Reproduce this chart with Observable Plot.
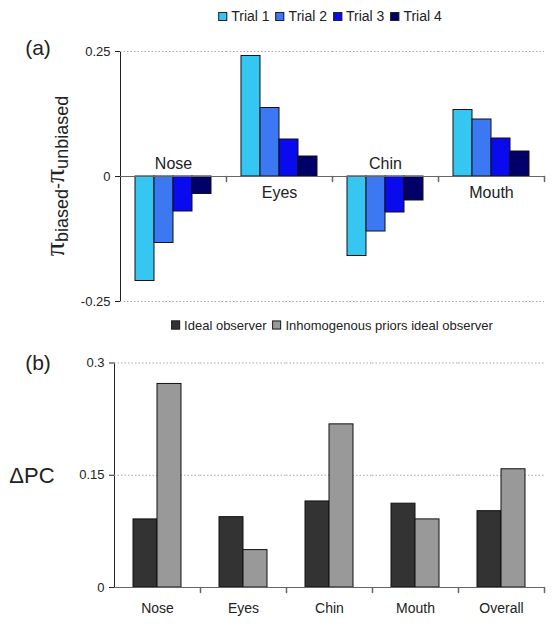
<!DOCTYPE html>
<html>
<head>
<meta charset="utf-8">
<script src="https://cdn.jsdelivr.net/npm/d3@7"></script>
<script src="https://cdn.jsdelivr.net/npm/@observablehq/plot@0.6"></script>
<style>
  html, body { margin: 0; padding: 0; background: #fff; }
  #wrap { position: relative; width: 560px; height: 629px; font-family: "Liberation Sans", Arial, sans-serif; color: #222; overflow: hidden; }
  .abs { position: absolute; }
  .legend { display: flex; align-items: center; white-space: nowrap; transform: translate(-50%, -50%); }
  .legend .sw { display: inline-block; width: 7px; height: 7px; border: 1px solid #222; margin-right: 4px; }
  .legend .it { display: flex; align-items: center; margin-right: 6px; }
  .panel { position: absolute; left: 0; }
  .lab { font-size: 21px; transform: translate(-50%, -50%); white-space: nowrap; }
</style>
</head>
<body>
<div id="wrap"></div>
<script>
// ---------- data ----------
const features = ["Nose", "Eyes", "Chin", "Mouth"];
const trials = ["Trial 1", "Trial 2", "Trial 3", "Trial 4"];
const trial1 = [-0.209, 0.241, -0.159, 0.133];
const trial2 = [-0.133, 0.137, -0.110, 0.114];
const trial3 = [-0.070, 0.074, -0.072, 0.076];
const trial4 = [-0.035, 0.040, -0.048, 0.050];
const trialColors = ["#36c6f2", "#3b78f2", "#0a0aee", "#000068"];
const yTicksA = [-0.25, 0, 0.25];
const yTickLabelsA = ["-0.25", "0", "0.25"];

const groupsB = ["Nose", "Eyes", "Chin", "Mouth", "Overall"];
const observers = ["Ideal observer", "Inhomogenous priors ideal observer"];
const idealObserver = [0.091, 0.094, 0.115, 0.112, 0.102];
const inhomogenousObserver = [0.272, 0.050, 0.218, 0.091, 0.158];
const observerColors = ["#333333", "#999999"];
const yTicksB = [0, 0.15, 0.3];
const yTickLabelsB = ["0", "0.15", "0.3"];

// ---------- tables ----------
const seriesA = [trial1, trial2, trial3, trial4];
const dataA = features.flatMap((f, i) => trials.map((t, j) => ({feature: f, trial: t, value: seriesA[j][i]})));
const labelsA = features.map((f, i) => ({feature: f, neg: trial1[i] < 0}));
const seriesB = [idealObserver, inhomogenousObserver];
const dataB = groupsB.flatMap((g, i) => observers.map((o, j) => ({group: g, obs: o, value: seriesB[j][i]})));

const fmtA = d => yTickLabelsA[yTicksA.indexOf(d)];
const fmtB = d => yTickLabelsB[yTicksB.indexOf(d)];

const tickShape = { draw(context, l) { context.moveTo(0, 0); context.lineTo(0, -l); } };

const wrap = document.getElementById("wrap");

// ---------- panel (a) ----------
const plotA = Plot.plot({
  width: 560, height: 320,
  marginLeft: 118, marginRight: 15, marginTop: 51, marginBottom: 19,
  style: {fontFamily: "Liberation Sans, Arial, sans-serif", fontSize: "13px", color: "#222", background: "transparent"},
  fx: {domain: features, padding: 0, axis: null, label: null},
  x: {domain: trials, paddingInner: 0, paddingOuter: 0.745, axis: null},
  y: {domain: [-0.25, 0.25], ticks: yTicksA, tickFormat: fmtA, tickSize: 5, tickPadding: 5, line: true, label: null},
  color: {domain: trials, range: trialColors},
  marks: [
    Plot.ruleY([-0.25, 0.25], {stroke: "#aaa", strokeDasharray: "1.5,2"}),
    Plot.barY(dataA, {fx: "feature", x: "trial", y: "value", fill: "trial", stroke: "#111", strokeWidth: 1}),
    Plot.ruleY([0], {stroke: "#666"}),
    Plot.vector(features, {fx: d => d, y: 0, frameAnchor: "right", length: 5, rotate: 180, anchor: "start", stroke: "#666", shape: tickShape}),
    Plot.text(labelsA.filter(d => d.neg), {fx: "feature", y: 0, text: "feature", dy: -13, fontSize: 16, fill: "#222"}),
    Plot.text(labelsA.filter(d => !d.neg), {fx: "feature", y: 0, text: "feature", dy: 16.5, fontSize: 16, fill: "#222"})
  ]
});
plotA.classList.add("panel");
plotA.style.top = "0px";
wrap.appendChild(plotA);

// ---------- panel (b) ----------
const plotB = Plot.plot({
  width: 560, height: 309,
  marginLeft: 113, marginRight: 15, marginTop: 42.5, marginBottom: 42,
  style: {fontFamily: "Liberation Sans, Arial, sans-serif", fontSize: "13px", color: "#222", background: "transparent"},
  fx: {domain: groupsB, padding: 0, label: null},
  x: {domain: observers, paddingInner: 0, paddingOuter: 0.76, axis: null},
  y: {domain: [0, 0.3], ticks: yTicksB, tickFormat: fmtB, tickSize: 5, tickPadding: 5, line: true, label: null},
  color: {domain: observers, range: observerColors},
  marks: [
    Plot.ruleY([0.15, 0.3], {stroke: "#aaa", strokeDasharray: "1.5,2"}),
    Plot.barY(dataB, {fx: "group", x: "obs", y: "value", fill: "obs", stroke: "#111", strokeWidth: 1}),
    Plot.ruleY([0], {stroke: "#666"}),
    Plot.vector(groupsB, {fx: d => d, y: 0, frameAnchor: "right", length: 5, rotate: 180, anchor: "start", stroke: "#666", shape: tickShape}),
    Plot.axisFx({anchor: "bottom", tickSize: 0, tickPadding: 16, fontSize: 14, label: null})
  ]
});
plotB.classList.add("panel");
plotB.style.top = "320px";
wrap.appendChild(plotB);

// ---------- HTML text: legends & labels ----------
function legend(names, colors, x, y, fontSize) {
  const div = document.createElement("div");
  div.className = "abs legend";
  div.style.left = x + "px";
  div.style.top = y + "px";
  div.style.fontSize = fontSize + "px";
  names.forEach((n, i) => {
    const it = document.createElement("span");
    it.className = "it";
    const sw = document.createElement("span");
    sw.className = "sw";
    sw.style.background = colors[i];
    it.appendChild(sw);
    it.appendChild(document.createTextNode(n));
    div.appendChild(it);
  });
  wrap.appendChild(div);
}
legend(trials, trialColors, 333, 16, 14);
legend(observers, observerColors, 335, 325, 13);

function label(html, x, y, size, extra) {
  const d = document.createElement("div");
  d.className = "abs lab";
  d.style.left = x + "px";
  d.style.top = y + "px";
  d.style.fontSize = size + "px";
  if (extra) Object.assign(d.style, extra);
  d.innerHTML = html;
  wrap.appendChild(d);
}
label("(a)", 38, 48, 21);
label("(b)", 38, 363, 21);
label("ΔPC", 32, 476, 22);
label('<span style="font-family:\'Liberation Serif\',serif;font-size:28px">π</span><sub style="font-size:18px">biased</sub><span style="font-size:18px">-</span><span style="font-family:\'Liberation Serif\',serif;font-size:28px">π</span><sub style="font-size:18px">unbiased</sub>',
  56, 176, 18, {transform: "translate(-50%, -50%) rotate(-90deg)"});
</script>
</body>
</html>
